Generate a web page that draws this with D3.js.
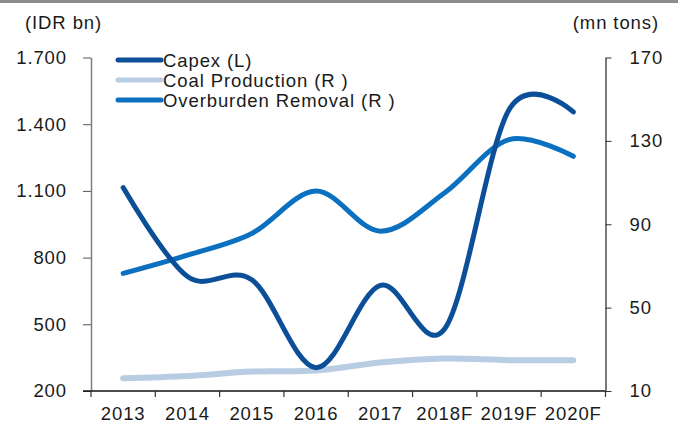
<!DOCTYPE html>
<html>
<head>
<meta charset="utf-8">
<script src="https://cdn.jsdelivr.net/npm/d3@7"></script>
<style>
  html, body { margin: 0; padding: 0; background: #fff; }
  svg { display: block; }
  text { font-family: "Liberation Sans", Arial, sans-serif; fill: #1a1a1a; }
</style>
</head>
<body>
<script>
const categories = ["2013", "2014", "2015", "2016", "2017", "2018F", "2019F", "2020F"];
const capex = [1115, 715, 700, 305, 675, 480, 1465, 1455];
const coalProduction = [16.1, 17.2, 19.3, 19.8, 23.7, 25.6, 24.8, 24.8];
const overburdenRemoval = [66.4, 75.2, 85.6, 105.9, 86.7, 105.1, 130.6, 122.6];
const leftTicks = [200, 500, 800, 1100, 1400, 1700];
const rightTicks = [10, 50, 90, 130, 170];
const seriesNames = ["Capex (L)", "Coal Production (R )", "Overburden Removal (R )"];
const seriesColors = ["#0B4F98", "#B8CCE4", "#0A70BF"];

const W = 680, H = 427;
const plotL = 91, plotR = 605.5, plotT = 57.5, plotB = 391;
const fontSize = "18.5px", ls = "0.9px";

const svg = d3.select("body").append("svg").attr("width", W).attr("height", H);

// top rule
svg.append("line").attr("x1", 0).attr("x2", 678).attr("y1", 1.5).attr("y2", 1.5)
  .attr("stroke", "#8c8c8c").attr("stroke-width", 3);

const x = d3.scaleBand().domain(categories).range([plotL, plotR]).padding(0);
const yL = d3.scaleLinear().domain([200, 1700]).range([plotB, plotT]);
const yR = d3.scaleLinear().domain([10, 170]).range([plotB, plotT]);
const locale = d3.formatLocale({decimal: ",", thousands: ".", grouping: [3], currency: ["", ""]});
const fmt = locale.format(",");

// left axis
const gL = svg.append("g").attr("transform", `translate(${plotL},0)`)
  .call(d3.axisLeft(yL).tickValues(leftTicks).tickFormat(fmt).tickSize(8).tickSizeOuter(0).tickPadding(16));
gL.select(".domain").attr("stroke", "#7f7f7f").attr("stroke-width", 1.5);
gL.selectAll(".tick line").attr("stroke", "#555");
gL.selectAll(".tick text").style("font-size", fontSize).style("letter-spacing", ls).attr("fill", "#1a1a1a");

// right axis
const gR = svg.append("g").attr("transform", `translate(${plotR},0)`)
  .call(d3.axisRight(yR).tickValues(rightTicks).tickSize(6).tickSizeOuter(0).tickPadding(18));
gR.select(".domain").attr("stroke", "#333").attr("stroke-width", 1.3);
gR.selectAll(".tick line").attr("stroke", "#333");
gR.selectAll(".tick text").style("font-size", fontSize).style("letter-spacing", ls).attr("fill", "#1a1a1a");

// bottom axis (ticks at category boundaries)
const gB = svg.append("g").attr("transform", `translate(0,${plotB})`);
gB.append("line").attr("x1", plotL - 8).attr("x2", plotR).attr("y1", 0).attr("y2", 0)
  .attr("stroke", "#111").attr("stroke-width", 1.3);
const boundaries = categories.map(c => x(c)).concat([x(categories[categories.length - 1]) + x.bandwidth()]);
gB.selectAll("line.tk").data(boundaries).join("line").attr("class", "tk")
  .attr("x1", d => d).attr("x2", d => d).attr("y1", 0).attr("y2", 6)
  .attr("stroke", "#333").attr("stroke-width", 1.2);
gB.selectAll("text").data(categories).join("text")
  .attr("x", d => x(d) + x.bandwidth() / 2).attr("y", 29)
  .attr("text-anchor", "middle")
  .style("font-size", fontSize).style("letter-spacing", ls)
  .text(d => d);

// axis titles
svg.append("text").attr("x", 25).attr("y", 29).style("font-size", fontSize).style("letter-spacing", ls).text("(IDR bn)");
svg.append("text").attr("x", 659).attr("y", 29).attr("text-anchor", "end").style("font-size", fontSize).style("letter-spacing", ls).text("(mn tons)");

const cx = d => x(d) + x.bandwidth() / 2;
const curve = d3.curveCardinal.tension(0);

const lineL = d3.line().x((d, i) => cx(categories[i])).y(d => yL(d)).curve(curve);
const lineR = d3.line().x((d, i) => cx(categories[i])).y(d => yR(d)).curve(curve);

svg.append("path").datum(coalProduction).attr("d", lineR)
  .attr("fill", "none").attr("stroke", seriesColors[1]).attr("stroke-width", 6).attr("stroke-linecap", "round");
svg.append("path").datum(overburdenRemoval).attr("d", lineR)
  .attr("fill", "none").attr("stroke", seriesColors[2]).attr("stroke-width", 5).attr("stroke-linecap", "round");
svg.append("path").datum(capex).attr("d", lineL)
  .attr("fill", "none").attr("stroke", seriesColors[0]).attr("stroke-width", 5).attr("stroke-linecap", "round");

// legend
const leg = svg.append("g");
seriesNames.forEach((name, i) => {
  const yy = 60 + i * 20;
  leg.append("line").attr("x1", 118).attr("x2", 161).attr("y1", yy).attr("y2", yy)
    .attr("stroke", seriesColors[i]).attr("stroke-width", 5).attr("stroke-linecap", "round");
  leg.append("text").attr("x", 163).attr("y", yy).attr("dy", "0.36em")
    .style("font-size", fontSize).style("letter-spacing", ls).text(name);
});
</script>
</body>
</html>
